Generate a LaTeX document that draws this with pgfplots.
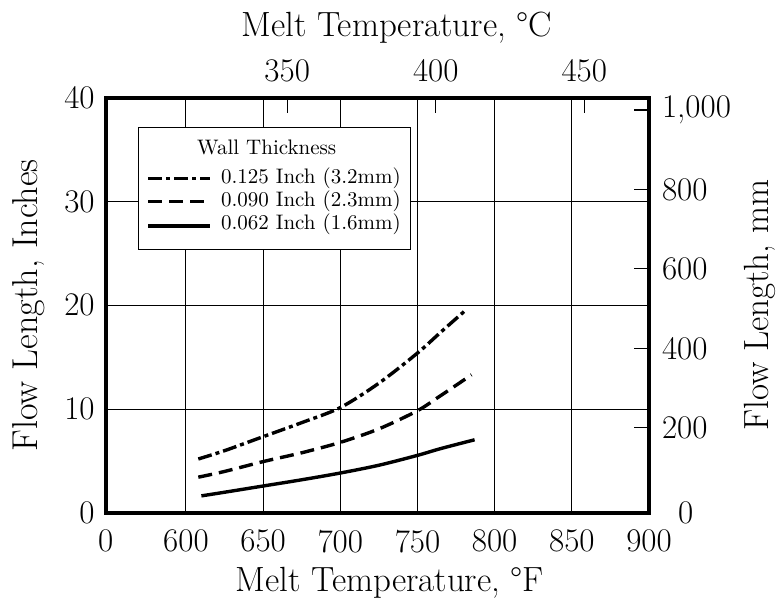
\documentclass[border=0pt]{standalone}
\usepackage{pgfplots}
\pgfplotsset{compat=1.18}
\begin{document}
\begin{tikzpicture}
\pgfplotsset{every axis/.append style={scale only axis, width=271.65pt, height=207.75pt,
  tick label style={font=\fontsize{16.5}{19}\selectfont},
  /pgf/number format/assume math mode=true}}
\begin{axis}[
  xmin=548, xmax=900, ymin=0, ymax=40,
  xtick={548,600,650,700,750,800,850,900},
  xticklabels={0,600,650,700,750,800,850,900},
  xticklabel style={yshift=-5pt},
  yticklabel style={xshift=-2pt},
  ytick={0,10,20,30,40},
  grid=major, grid style={black, line width=0.5pt},
  major tick length=0pt,
  axis line style={line width=2pt},
  every axis x label/.style={at={(axis description cs:0.523,-0.168)},anchor=center,font=\fontsize{17.5}{20}\selectfont},
  every axis y label/.style={at={(axis description cs:-0.142,0.5)},anchor=center,rotate=90,font=\fontsize{18}{20}\selectfont},
  xlabel={Melt Temperature, \textdegree F},
  ylabel={Flow Length, Inches},
  legend style={at={(axis description cs:0.0595,0.928)}, anchor=north west, draw=black, line width=0.5pt,
    font=\fontsize{10.5}{12}\selectfont, inner xsep=4pt, inner ysep=5pt, row sep=0pt,
    nodes={inner sep=0.6pt, text height=7.6pt, text depth=2.6pt},
    /tikz/every odd column/.append style={column sep=4pt}},
  legend cell align=left,
  legend image code/.code={\draw[#1] (0cm,0cm) -- (1.09cm,0cm);},
]
\addlegendimage{empty legend}
\addlegendentry[text depth=5.8pt]{\hspace{-12pt}Wall Thickness}
\addplot[black, line width=1.7pt, dash pattern=on 7pt off 2pt on 2pt off 2pt, smooth] coordinates {
  (608,5.2) (625,6.0) (650,7.35) (675,8.7) (700,10.15) (725,12.5) (750,15.4) (765,17.4) (781,19.5)};
\addlegendentry{0.125 Inch (3.2mm)}
\addplot[black, line width=1.7pt, dash pattern=on 7pt off 3.5pt, smooth] coordinates {
  (608,3.45) (625,4.0) (650,4.95) (675,5.8) (700,6.8) (725,8.1) (750,9.85) (765,11.3) (785,13.3)};
\addlegendentry{0.090 Inch (2.3mm)}
\addplot[black, line width=1.7pt, smooth] coordinates {
  (610,1.65) (625,2.0) (650,2.6) (675,3.2) (700,3.85) (725,4.6) (750,5.55) (765,6.2) (787,7.05)};
\addlegendentry[text depth=4.6pt]{0.062 Inch (1.6mm)}
\end{axis}
\begin{axis}[
  xmin=288.9, xmax=471.8, ymin=-15, ymax=1031.5,
  axis x line*=top, axis y line*=right,
  xtick={350,400,450},
  xticklabel style={yshift=4pt},
  ytick={200,400,600,800,1000},
  yticklabels={200,400,600,800,{1,000}},
  yticklabel style={xshift=3pt},
  extra y ticks={-15},
  extra y tick labels={0},
  extra y tick style={major tick length=0pt, yticklabel style={xshift=8pt}},
  tick align=inside, major tick length=7.5pt,
  tick style={black, line width=0.6pt},
  axis line style={draw=none},
  every axis x label/.style={at={(axis description cs:0.536,1.167)},anchor=center,font=\fontsize{17.5}{20}\selectfont},
  every axis y label/.style={at={(axis description cs:1.204,0.5)},anchor=center,rotate=90,font=\fontsize{17.5}{20}\selectfont},
  xlabel={Melt Temperature, \textdegree C},
  ylabel={Flow Length, mm},
]
\end{axis}
\pgfresetboundingbox
\path (current axis.south west) ++(-52.85pt,-47pt) coordinate (bbA);
\path (current axis.north east) ++(67.5pt,48.75pt) coordinate (bbB);
\useasboundingbox (bbA) rectangle (bbB);
\end{tikzpicture}
\end{document}
